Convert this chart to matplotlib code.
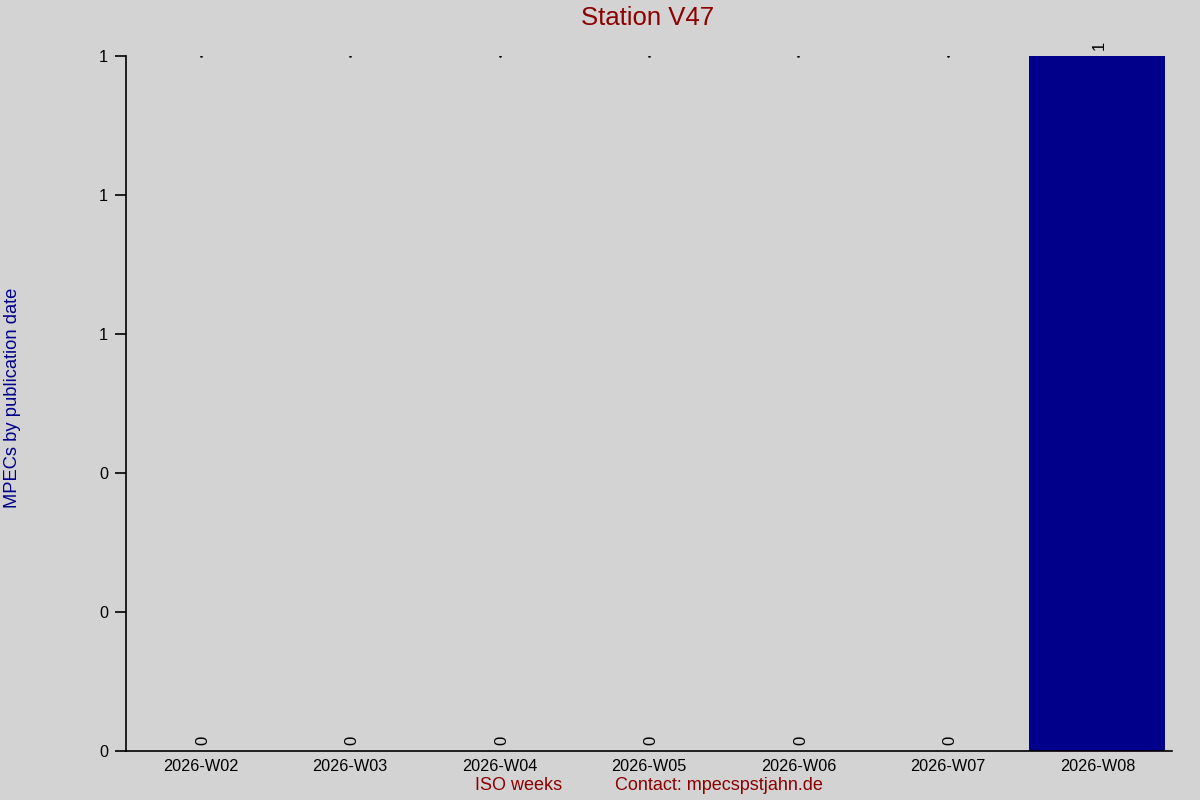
import matplotlib.pyplot as plt
from matplotlib.ticker import FormatStrFormatter

# Weekly MPEC counts for the station
weeks = ["2026-W02", "2026-W03", "2026-W04", "2026-W05", "2026-W06", "2026-W07", "2026-W08"]
counts = [0, 0, 0, 0, 0, 0, 1]

BG = "#d3d3d3"
BAR = "#00008b"
RED = "#8b0000"

plt.rcParams["font.family"] = ["Liberation Sans", "DejaVu Sans"]

fig = plt.figure(figsize=(12, 8), dpi=100, facecolor=BG)
ax = fig.add_axes([0.105, 0.06125, 0.8717, 0.86875], facecolor=BG)

x = list(range(len(weeks)))
ax.bar(x, counts, width=0.91, color=BAR)

top = max(counts)
# tiny marks at the top of empty columns
ax.plot([i for i, c in zip(x, counts) if c == 0], [top] * counts.count(0),
        linestyle="none", marker="s", markersize=0.8, color="black")

for i, c in zip(x, counts):
    ax.annotate(str(c), (i, c), xytext=(1.5, 4), textcoords="offset points",
                rotation=90, ha="center", va="bottom", fontsize=12)

ax.set_xlim(-0.5, len(weeks) - 0.5)
ax.set_ylim(0, top)
ax.set_yticks([top * k / 5 for k in range(6)])
ax.yaxis.set_major_formatter(FormatStrFormatter("%.0f"))
ax.set_xticks(x, weeks)
ax.tick_params(axis="x", length=0, pad=6, labelsize=11.7)
ax.tick_params(axis="y", length=8, width=1.2, pad=5, labelsize=11.7)

for side in ("top", "right"):
    ax.spines[side].set_visible(False)
for side in ("left", "bottom"):
    ax.spines[side].set_linewidth(1.2)

fig.text(0.54, 0.977, "Station V47", color=RED, fontsize=18.5, ha="center", va="center")
fig.text(0.0105, 0.503, "MPECs by publication date", color=BAR, fontsize=13.2,
         rotation=90, ha="center", va="center")
fig.text(0.432, 0.0175, "ISO weeks", color=RED, fontsize=13, ha="center", va="center")
fig.text(0.599, 0.0175, "Contact: mpecspstjahn.de", color=RED, fontsize=13,
         ha="center", va="center")

fig.savefig("out.png", dpi=100, facecolor=BG)
